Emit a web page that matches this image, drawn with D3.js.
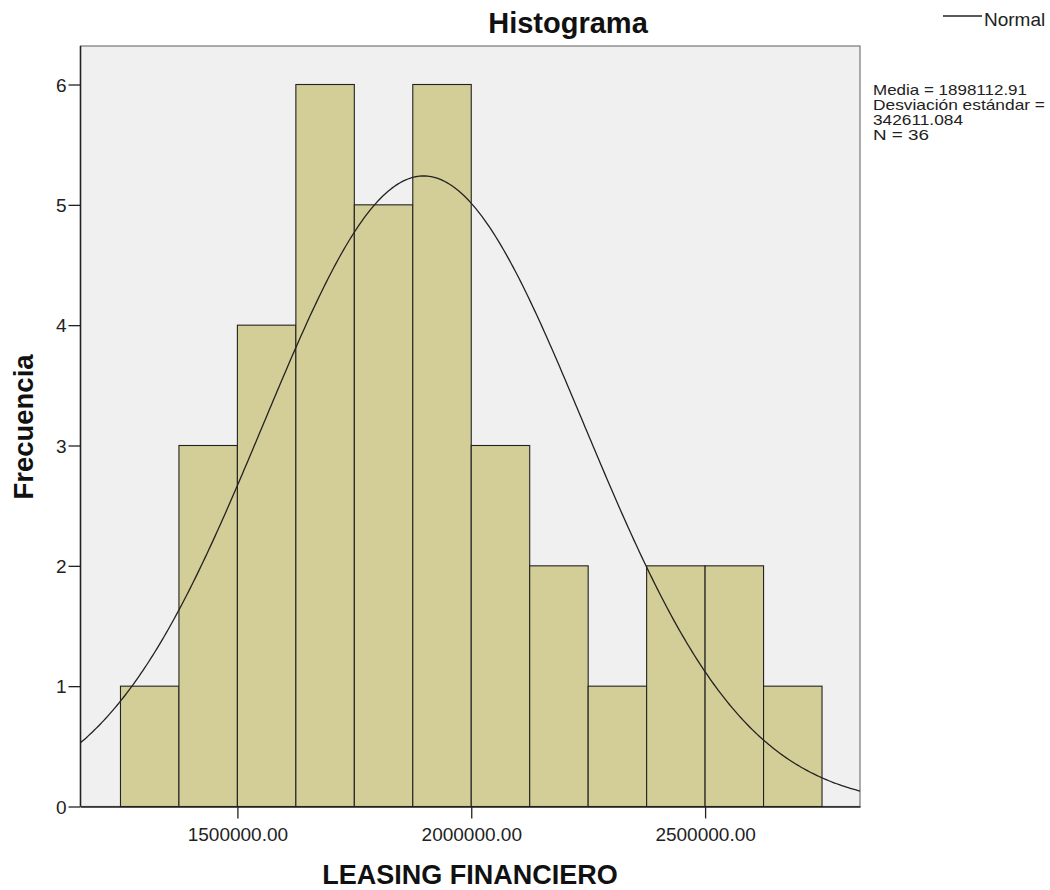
<!DOCTYPE html>
<html><head><meta charset="utf-8">
<script src="https://cdn.jsdelivr.net/npm/d3@7"></script>
<style>body{margin:0;background:#fff}svg{display:block;font-family:"Liberation Sans",Arial,sans-serif}</style>
</head><body><svg id="c" width="1050" height="890"></svg>
<script>
const binStarts = [1250000,1375000,1500000,1625000,1750000,1875000,2000000,2125000,2250000,2375000,2500000,2625000];
const binWidth = 125000;
const counts = [1,3,4,6,5,6,3,2,1,2,2,1];
const xTicks = [1500000,2000000,2500000];
const yTicks = [0,1,2,3,4,5,6];
const mean = 1898112.91, sd = 342611.084, n = 36;
const statsLines = ["Media = 1898112.91","Desviación estándar =","342611.084","N = 36"];

const svg = d3.select("#c");
const L=80.5,R=860,T=46,B=806.5;
const x = d3.scaleLinear().domain([1164530,2831200]).range([L,R]);
const y = d3.scaleLinear().domain([0,6]).range([B,84.5]);

svg.append("rect").attr("x",L).attr("y",T).attr("width",R-L).attr("height",B-T).attr("fill","#f0f0f0").attr("stroke","#777").attr("stroke-width",1.2);

svg.append("g").selectAll("rect").data(binStarts).join("rect")
 .attr("x",(d)=>x(d)).attr("width",(d)=>x(d+binWidth)-x(d))
 .attr("y",(d,i)=>y(counts[i])).attr("height",(d,i)=>B-y(counts[i]))
 .attr("fill","#d3ce97").attr("stroke","#222").attr("stroke-width",1.1);

const pdf = v => n*binWidth/(sd*Math.sqrt(2*Math.PI))*Math.exp(-0.5*((v-mean)/sd)**2);
const pts = d3.range(0,401).map(i=>{const v=x.domain()[0]+(x.domain()[1]-x.domain()[0])*i/400;return [v,pdf(v)];});
svg.append("path").datum(pts).attr("fill","none").attr("stroke","#222").attr("stroke-width",1.3)
 .attr("d",d3.line().x(d=>x(d[0])).y(d=>y(d[1])));

const xa = svg.append("g").attr("transform",`translate(0,${B})`)
 .call(d3.axisBottom(x).tickValues(xTicks).tickFormat(d3.format(".2f")).tickSize(12).tickSizeOuter(0));
xa.select(".domain").attr("stroke","#222").attr("stroke-width",1.5);
xa.selectAll("line").attr("stroke","#222").attr("stroke-width",1.3);
xa.selectAll("text").attr("font-size",19).attr("fill","#222").attr("y",34).attr("dy",0).attr("font-family","Liberation Sans, Arial, sans-serif");

const ya = svg.append("g").attr("transform",`translate(${L},0)`)
 .call(d3.axisLeft(y).tickValues(yTicks).tickFormat(d3.format("d")).tickSize(12).tickSizeOuter(0));
ya.select(".domain").attr("stroke","#222").attr("stroke-width",1.5).attr("d",`M0,${T}V${B}`);
ya.selectAll("line").attr("stroke","#222").attr("stroke-width",1.3);
ya.selectAll("text").attr("font-size",19).attr("fill","#222").attr("x",-14).attr("dy","0.35em").attr("font-family","Liberation Sans, Arial, sans-serif");

svg.append("text").attr("x",568).attr("y",33).attr("text-anchor","middle").attr("font-size",29).attr("font-weight","bold").attr("fill","#111").text("Histograma");
svg.append("text").attr("x",470).attr("y",884).attr("text-anchor","middle").attr("font-size",27).attr("font-weight","bold").attr("fill","#111").text("LEASING FINANCIERO");
svg.append("text").attr("transform","translate(33,427) rotate(-90)").attr("text-anchor","middle").attr("font-size",27.5).attr("font-weight","bold").attr("fill","#111").text("Frecuencia");

svg.append("line").attr("x1",943).attr("x2",982).attr("y1",16).attr("y2",16).attr("stroke","#222").attr("stroke-width",1.3);
svg.append("text").attr("x",984).attr("y",26).attr("font-size",19).attr("fill","#222").text("Normal");

svg.append("g").selectAll("text").data(statsLines).join("text")
 .attr("x",873).attr("y",(d,i)=>95+i*15).attr("font-size",15).attr("fill","#222")
 .attr("textLength",(d,i)=>[154,172,90,56][i]).attr("lengthAdjust","spacingAndGlyphs").text(d=>d);
</script></body></html>
